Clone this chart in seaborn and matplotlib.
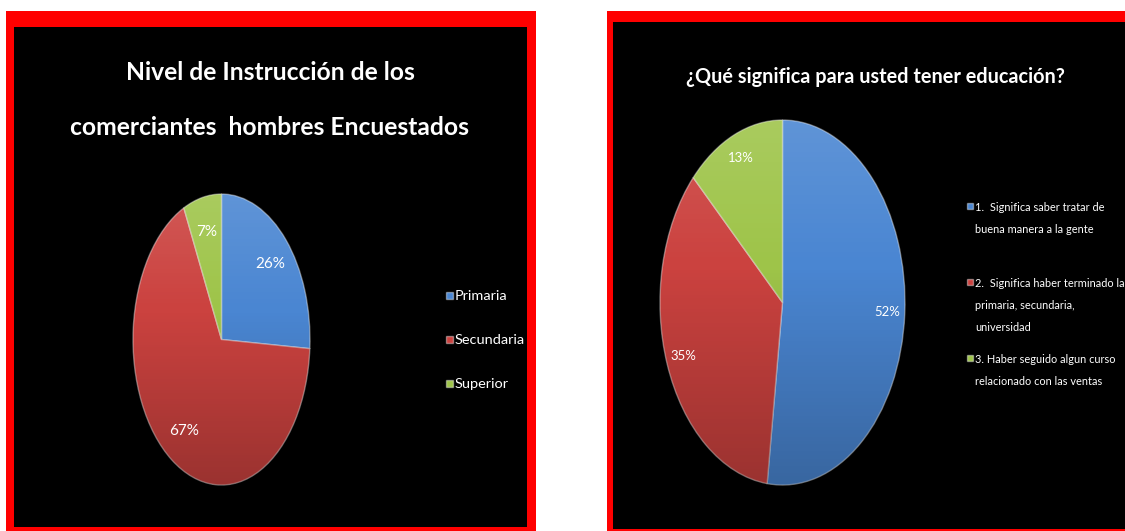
import numpy as np
import matplotlib
matplotlib.use("Agg")
import matplotlib.pyplot as plt
from matplotlib import font_manager as fm
from matplotlib.font_manager import FontProperties
from matplotlib.patches import Rectangle, Circle
from matplotlib.legend_handler import HandlerPatch
import seaborn as sns

# Survey results
nivel_labels = ["Primaria", "Secundaria", "Superior"]
nivel_values = [26, 67, 7]

educ_labels = [
    "1.  Significa saber tratar de\nbuena manera a la gente\n",
    "2.  Significa haber terminado la\nprimaria, secundaria,\nuniversidad",
    "3. Haber seguido algun curso\nrelacionado con las ventas",
]
educ_values = [52, 35, 13]

title_left = "Nivel de Instrucción de los\ncomerciantes  hombres Encuestados"
title_right = "¿Qué significa para usted tener educación?"

palette = ["#4A86D2", "#CB423F", "#9EC449"]

sns.set_style("white")
installed = {f.name for f in fm.fontManager.ttflist}
FAMILY = next(f for f in ["Liberation Sans Narrow", "Lato", "Roboto", "DejaVu Sans"]
              if f in installed)
plt.rcParams["font.family"] = [FAMILY, "DejaVu Sans"]

W, H, DPI = 1125, 531, 100
fig = plt.figure(figsize=(W / DPI, H / DPI), dpi=DPI)
fig.patch.set_facecolor("white")
renderer = fig.canvas.get_renderer()


def text_px(s, size, weight="normal"):
    fp = FontProperties(family=[FAMILY, "DejaVu Sans"], size=size, weight=weight)
    return renderer.get_text_width_height_descent(s, fp, ismath=False)


def fit(s, width_px, weight="normal"):
    """Font size (pt) whose widest line spans width_px pixels."""
    widest = max(text_px(line, 10, weight)[0] for line in s.split("\n") if line)
    return 10 * width_px / widest


def line_h(size, weight="normal"):
    return text_px("lp", size, weight)[1]


def linespacing_for(step_px, size, weight="normal"):
    """linespacing value giving roughly step_px between baselines."""
    _, h, d = text_px("lp", size, weight)
    return step_px / (1.074 * (h - d))


def frac_box(x0, y0, x1, y1):
    """Pixel box (top-left origin) -> figure fraction [left, bottom, width, height]."""
    return [x0 / W, 1 - y1 / H, (x1 - x0) / W, (y1 - y0) / H]


def panel(outer, inner):
    for box, col, z in ((outer, "#FF0000", -3), (inner, "black", -2)):
        l, b, w, h = frac_box(*box)
        fig.add_artist(Rectangle((l, b), w, h, transform=fig.transFigure,
                                 facecolor=col, edgecolor="none", zorder=z))


panel((6, 11, 536, 531), (14, 27, 527, 527))
panel((607, 11, 1125, 531), (613, 22, 1125, 529))

# soft top-to-bottom shading laid over the pies
grad = np.zeros((256, 1, 4))
tt = np.linspace(0, 1, 256)
grad[:, 0, :3] = np.where(tt[:, None] < 0.4, 1.0, 0.0)
grad[:, 0, 3] = np.where(tt < 0.4, (0.4 - tt) * 0.3, (tt - 0.4) * 0.4)


def tilted_pie(box, values, pctdist, pct_size):
    ax = fig.add_axes(frac_box(*box))
    ax.set_facecolor("none")
    wedges, _, _ = ax.pie(
        values, colors=palette, startangle=90, counterclock=False,
        autopct="%1.0f%%", pctdistance=pctdist,
        wedgeprops=dict(edgecolor=(1, 1, 1, 0.4), linewidth=1.0),
        textprops=dict(color="white", fontsize=pct_size, zorder=5),
    )
    ax.set_aspect("auto")
    img = ax.imshow(grad, extent=(-1, 1, -1, 1), aspect="auto", zorder=3,
                    interpolation="bilinear")
    img.set_clip_path(Circle((0, 0), 1, transform=ax.transData))
    ax.set_xlim(-1, 1)
    ax.set_ylim(-1, 1)
    ax.axis("off")
    return wedges


def square_marker(side_px):
    side = side_px * 72 / DPI

    def make(legend, orig_handle, xdescent, ydescent, width, height, fontsize):
        cx = -xdescent + width / 2
        cy = -ydescent + height / 2
        return Rectangle((cx - side / 2, cy - side / 2), side, side)
    return HandlerPatch(patch_func=make)


def side_legend(handles, labels, x_marker, y_first, marker_px, gap_px,
                size, step_px, line_px=None):
    fpx = size * DPI / 72
    h = line_h(size)
    leg = fig.legend(
        handles, labels, loc="upper left",
        bbox_to_anchor=(x_marker / W, 1 - (y_first - h / 2) / H),
        frameon=False, fontsize=size, labelcolor="white",
        borderpad=0, borderaxespad=0,
        handlelength=marker_px / fpx, handleheight=h / fpx,
        handletextpad=gap_px / fpx, labelspacing=(step_px - h) / fpx,
        handler_map={type(handles[0]): square_marker(marker_px)},
    )
    if line_px is not None:
        for t in leg.get_texts():
            t.set_linespacing(linespacing_for(line_px, size))
    for col in leg._legend_handle_box.get_children():
        for row in col.get_children():
            row.align = "top"
    return leg


# ---- left chart ----
ts = fit(title_left, 400, "bold")
fig.text(270 / W, 1 - 100 / H, title_left, color="white", fontsize=ts,
         fontweight="bold", ha="center", va="center",
         linespacing=linespacing_for(54, ts, "bold"))
w_left = tilted_pie((133, 194, 310, 485), nivel_values, 0.76, fit("26%", 30))
side_legend(w_left, nivel_labels, 446, 296, 7, 2,
            fit("Secundaria", 70), 44)

# ---- right chart ----
ts = fit(title_right, 380, "bold")
fig.text(875 / W, 1 - 77 / H, title_right, color="white", fontsize=ts,
         fontweight="bold", ha="center", va="center")
w_right = tilted_pie((660, 120, 905, 485), educ_values, 0.86, fit("52%", 26))
side_legend(w_right, educ_labels, 967, 207, 6, 2,
            fit(educ_labels[1], 148), 32, line_px=21.5)

fig.savefig("out.png", dpi=DPI, facecolor="white")
